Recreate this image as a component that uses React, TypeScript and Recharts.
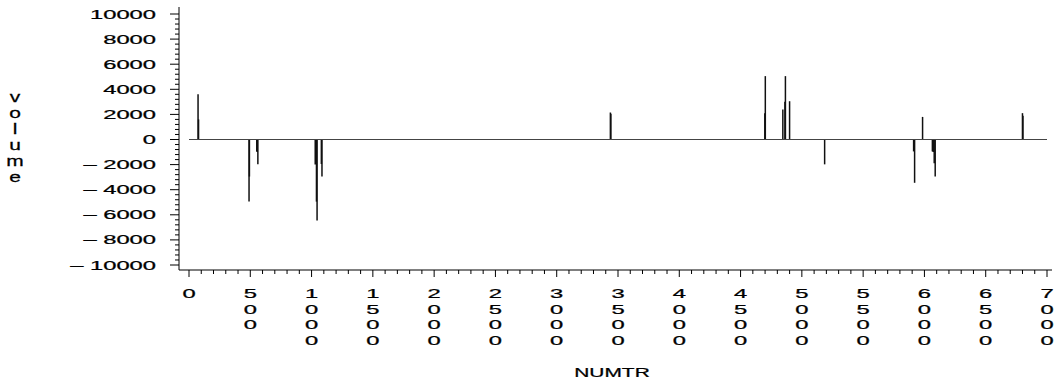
import React from 'react';
import { ComposedChart, Bar, XAxis, YAxis, ReferenceLine } from 'recharts';

// ---- data ----
const numtr = [74, 78, 490, 493, 553, 557, 562, 1030, 1035, 1040, 1045, 1080, 1085, 3438, 3442, 4698, 4702, 4845, 4862, 4866, 4900, 5186, 5912, 5920, 5985, 6065, 6072, 6080, 6088, 6800, 6804];
const volume = [3600, 1600, -4950, -2950, -950, -1000, -1980, -2000, -1950, -4950, -6450, -1950, -2950, 2150, 2050, 2100, 5050, 2400, 3000, 5050, 3050, -1980, -950, -3450, 1800, -950, -1000, -1900, -2950, 2100, 1900];

const xMajorTicks = [0, 500, 1000, 1500, 2000, 2500, 3000, 3500, 4000, 4500, 5000, 5500, 6000, 6500, 7000];
const yMajorTicks = [-10000, -8000, -6000, -4000, -2000, 0, 2000, 4000, 6000, 8000, 10000];
const xMinorStep = 100;
const yMinorStep = 400;

const xTitle = 'NUMTR';
const yTitle = 'volume';

const data = numtr.map((n, i) => ({ numtr: n, volume: volume[i] }));

const xTicks: number[] = [];
for (let v = 0; v <= 7000; v += xMinorStep) xTicks.push(v);
const yTicks: number[] = [];
for (let v = -10000; v <= 10000; v += yMinorStep) yTicks.push(v);

const W = 1059;
const H = 385;
const FONT = '"Liberation Sans", Arial, Helvetica, sans-serif';
const SX = 1.9;
const TXT = { fontFamily: FONT, fill: '#000', stroke: '#000', strokeWidth: 0.25 };

const XTick = (props: any) => {
  const { x, y, payload } = props;
  const v = payload.value;
  const major = xMajorTicks.includes(v);
  const digits = major ? String(v).split('') : [];
  return (
    <g>
      <line x1={x} x2={x} y1={y} y2={y + (major ? 7 : 4)} stroke="#000" strokeWidth={1} />
      {digits.map((d, i) => (
        <g key={i} transform={`translate(${x},${y + 28 + i * 15.6})`}>
          <text transform={`scale(${SX},1)`} textAnchor="middle" fontSize={12.5} {...TXT}>
            {d}
          </text>
        </g>
      ))}
    </g>
  );
};

const YTick = (props: any) => {
  const { x, y, payload } = props;
  const v = payload.value;
  const major = yMajorTicks.includes(v);
  const label = v < 0 ? `\u2013 ${Math.abs(v)}` : String(v);
  return (
    <g>
      <line x1={x - (major ? 9 : 4)} x2={x} y1={y} y2={y} stroke="#000" strokeWidth={1} />
      {major && (
        <g transform={`translate(${x - 23},${y + 4.5})`}>
          <text transform={`scale(${SX},1)`} textAnchor="end" fontSize={12.5} {...TXT}>
            {label}
          </text>
        </g>
      )}
    </g>
  );
};

const XLabel = (props: any) => {
  const vb = props.viewBox || {};
  const cx = vb.x + vb.width / 2 - 3.5;
  return (
    <g transform={`translate(${cx},${vb.y + 107})`}>
      <text transform="scale(1.55,1)" textAnchor="middle" fontSize={13.5} {...TXT}>
        {xTitle}
      </text>
    </g>
  );
};

const YLabel = () => {
  const letters = yTitle.split('');
  return (
    <g>
      {letters.map((c, i) => (
        <g key={i} transform={`translate(15,${102 + i * 16})`}>
          <text transform="scale(1.4,1)" textAnchor="middle" fontSize={15} {...TXT}>
            {c}
          </text>
        </g>
      ))}
    </g>
  );
};

const Needle = (props: any) => {
  const { x, y, width, height } = props;
  if (x == null || y == null) return null;
  const cx = x + (width || 0) / 2;
  return <line x1={cx} x2={cx} y1={y} y2={y + (height || 0)} stroke="#111" strokeWidth={1.5} />;
};

export default function App() {
  return (
    <div style={{ position: 'absolute', left: 0, top: 0, width: W, height: H, background: '#fff' }}>
      <ComposedChart width={W} height={H} data={data} margin={{ top: 7, right: 7, bottom: 15, left: 0 }}>
        <XAxis
          type="number"
          dataKey="numtr"
          domain={[0, 7000]}
          ticks={xTicks}
          interval={0}
          padding={{ left: 10, right: 5 }}
          tickSize={0}
          tickMargin={0}
          tickLine={false}
          tick={<XTick />}
          height={100}
          stroke="#000"
          allowDataOverflow
          label={{ content: XLabel }}
        />
        <YAxis
          type="number"
          domain={[-10000, 10000]}
          ticks={yTicks}
          interval={0}
          padding={{ top: 7, bottom: 5 }}
          width={179}
          tickSize={0}
          tickMargin={0}
          tickLine={false}
          tick={<YTick />}
          stroke="#000"
          allowDataOverflow
          label={{ content: YLabel }}
        />
        <ReferenceLine segment={[{ x: 0, y: 0 }, { x: 7000, y: 0 }]} stroke="#444" strokeWidth={1} />
        <Bar dataKey="volume" barSize={1} isAnimationActive={false} shape={Needle} />
      </ComposedChart>
    </div>
  );
}
